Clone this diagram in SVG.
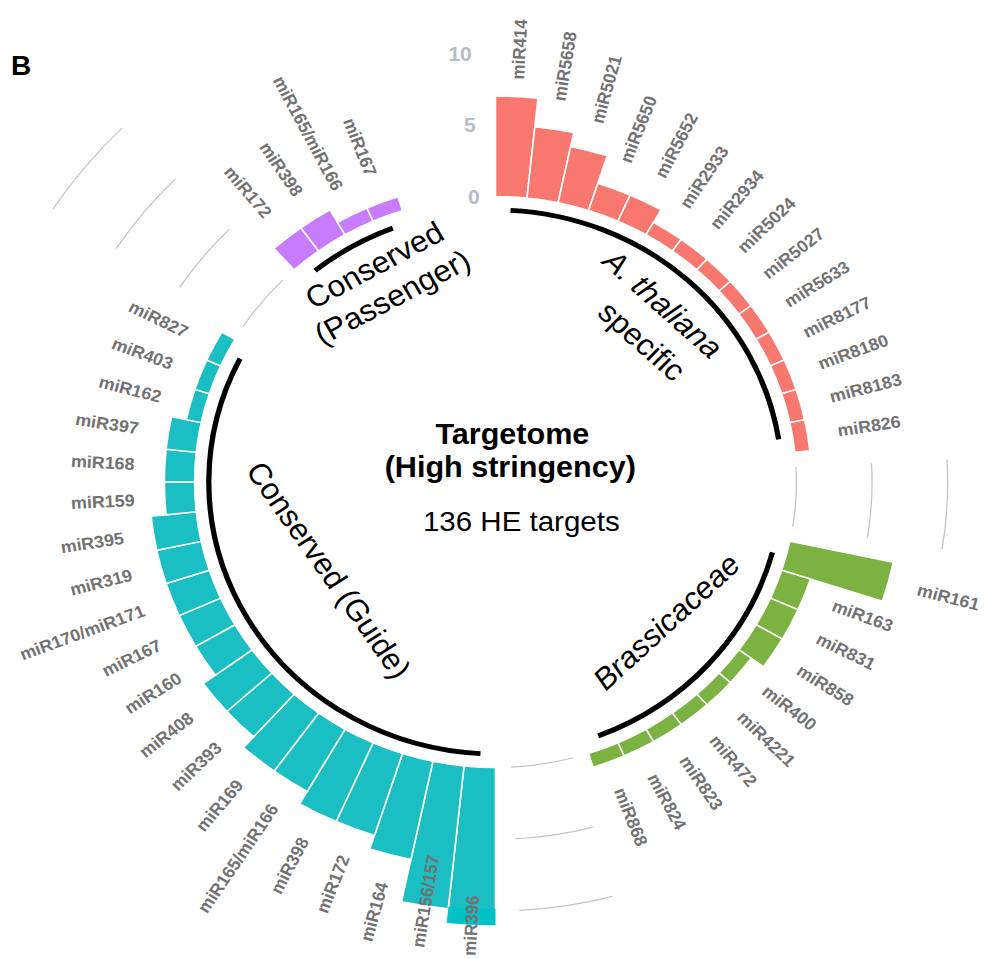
<svg xmlns="http://www.w3.org/2000/svg" xmlns:xlink="http://www.w3.org/1999/xlink" width="986" height="959" viewBox="0 0 986 959">
<style>
text{font-family:"Liberation Sans",Arial,sans-serif}
.lb{font-size:17px;font-weight:bold;fill:#727272}
.le{font-size:17px;font-weight:bold;fill:#727272;text-anchor:end}
.ax{font-size:20px;font-weight:bold;fill:#B8BDC6;text-anchor:end}
.bar{stroke:#fff;stroke-width:1.5}
.at{fill:#F8776E}
.br{fill:#7CB242}
.gu{fill:#1BBEC3}
.pa{fill:#C77CFF}
.grid{fill:none;stroke:#C4C4C4;stroke-width:1.2}
.base{fill:none;stroke:#000;stroke-width:5}
.ttl{font-size:30px;fill:#000;text-anchor:middle}
.ctr{font-size:29px;fill:#000;text-anchor:middle}
</style>
<defs>
<path id="b1" d="M0,-285.5V-299.85A299.85,299.85 0 0 1 31.343,-298.207L29.843,-283.935A285.5,285.5 0 0 0 0,-285.5Z"/>
<path id="b2" d="M0,-285.5V-314.2A314.2,314.2 0 0 1 32.843,-312.478L29.843,-283.935A285.5,285.5 0 0 0 0,-285.5Z"/>
<path id="b3" d="M0,-285.5V-328.55A328.55,328.55 0 0 1 34.343,-326.75L29.843,-283.935A285.5,285.5 0 0 0 0,-285.5Z"/>
<path id="b4" d="M0,-285.5V-342.9A342.9,342.9 0 0 1 35.843,-341.021L29.843,-283.935A285.5,285.5 0 0 0 0,-285.5Z"/>
<path id="b5" d="M0,-285.5V-357.25A357.25,357.25 0 0 1 37.343,-355.292L29.843,-283.935A285.5,285.5 0 0 0 0,-285.5Z"/>
<path id="b6" d="M0,-285.5V-371.6A371.6,371.6 0 0 1 38.843,-369.564L29.843,-283.935A285.5,285.5 0 0 0 0,-285.5Z"/>
<path id="b7" d="M0,-285.5V-385.95A385.95,385.95 0 0 1 40.344,-383.835L29.843,-283.935A285.5,285.5 0 0 0 0,-285.5Z"/>
<path id="b10" d="M0,-285.5V-429A429,429 0 0 1 44.843,-426.649L29.843,-283.935A285.5,285.5 0 0 0 0,-285.5Z"/>
<path id="b11" d="M0,-285.5V-443.35A443.35,443.35 0 0 1 46.343,-440.92L29.843,-283.935A285.5,285.5 0 0 0 0,-285.5Z"/>
<g id="gridarcs">
<path d="M0,-285.5A285.5,285.5 0 0 1 59.358,-279.262"/>
<path d="M0,-357.25A357.25,357.25 0 0 1 74.276,-349.444"/>
<path d="M0,-429A429,429 0 0 1 89.193,-419.626"/>
<path d="M0,-500.75A500.75,500.75 0 0 1 104.111,-489.809"/>
</g>
</defs>
<rect width="986" height="959" fill="#fff"/>
<text x="11" y="75" style="font-size:28px;font-weight:bold">B</text>
<g id="chart" transform="translate(495.5,482) scale(1.054,1)">
<g id="grid" class="grid">
<use href="#gridarcs" transform="rotate(87)"/>
<use href="#gridarcs" transform="rotate(165)"/>
<use href="#gridarcs" transform="rotate(303)"/>
</g>
<g id="axis-labels">
<text class="ax" x="-14.94" y="-285.11" dy=".35em">0</text>
<text class="ax" x="-18.7" y="-356.76" dy=".35em">5</text>
<text class="ax" x="-22.45" y="-428.41" dy=".35em">10</text>
</g>
<g id="group-athaliana">
<g class="bar at">
<use href="#b7"/>
<use href="#b5" transform="rotate(6)"/>
<use href="#b4" transform="rotate(12)"/>
<use href="#b2" transform="rotate(18)"/>
<use href="#b2" transform="rotate(24)"/>
<use href="#b1" transform="rotate(30)"/>
<use href="#b1" transform="rotate(36)"/>
<use href="#b1" transform="rotate(42)"/>
<use href="#b1" transform="rotate(48)"/>
<use href="#b1" transform="rotate(54)"/>
<use href="#b1" transform="rotate(60)"/>
<use href="#b1" transform="rotate(66)"/>
<use href="#b1" transform="rotate(72)"/>
<use href="#b1" transform="rotate(78)"/>
</g>
<path class="base" d="M14.236,-271.627A272,272 0 0 1 268.652,-42.549"/>
<text class="lb" transform="rotate(-87)" x="403" dy=".35em">miR414</text>
<text class="lb" transform="rotate(-81)" x="385.95" dy=".35em">miR5658</text>
<text class="lb" transform="rotate(-75)" x="371.6" dy=".35em">miR5021</text>
<text class="lb" transform="rotate(-69)" x="342.9" dy=".35em">miR5650</text>
<text class="lb" transform="rotate(-63)" x="342.9" dy=".35em">miR5652</text>
<text class="lb" transform="rotate(-57)" x="328.55" dy=".35em">miR2933</text>
<text class="lb" transform="rotate(-51)" x="328.55" dy=".35em">miR2934</text>
<text class="lb" transform="rotate(-45)" x="328.55" dy=".35em">miR5024</text>
<text class="lb" transform="rotate(-39)" x="328.55" dy=".35em">miR5027</text>
<text class="lb" transform="rotate(-33)" x="328.55" dy=".35em">miR5633</text>
<text class="lb" transform="rotate(-27)" x="328.55" dy=".35em">miR8177</text>
<text class="lb" transform="rotate(-21)" x="328.55" dy=".35em">miR8180</text>
<text class="lb" transform="rotate(-15)" x="328.55" dy=".35em">miR8183</text>
<text class="lb" transform="rotate(-9)" x="328.55" dy=".35em">miR826</text>
<text class="ttl" transform="translate(159,-178) rotate(43)" dy=".35em" font-style="italic">A. thaliana</text>
<text class="ttl" transform="translate(139,-141) rotate(43)" dy=".35em">specific</text>
</g>
<g id="group-brassicaceae">
<g class="bar br">
<use href="#b7" transform="rotate(102)"/>
<use href="#b2" transform="rotate(108)"/>
<use href="#b2" transform="rotate(114)"/>
<use href="#b2" transform="rotate(120)"/>
<use href="#b1" transform="rotate(126)"/>
<use href="#b1" transform="rotate(132)"/>
<use href="#b1" transform="rotate(138)"/>
<use href="#b1" transform="rotate(144)"/>
<use href="#b1" transform="rotate(150)"/>
<use href="#b1" transform="rotate(156)"/>
</g>
<path class="base" d="M262.733,70.399A272,272 0 0 1 97.477,253.934"/>
<text class="lb" transform="rotate(15)" x="414.7" dy=".35em">miR161</text>
<text class="lb" transform="rotate(21)" x="342.9" dy=".35em">miR163</text>
<text class="lb" transform="rotate(27)" x="342.9" dy=".35em">miR831</text>
<text class="lb" transform="rotate(33)" x="342.9" dy=".35em">miR858</text>
<text class="lb" transform="rotate(39)" x="328.55" dy=".35em">miR400</text>
<text class="lb" transform="rotate(45)" x="328.55" dy=".35em">miR4221</text>
<text class="lb" transform="rotate(51)" x="328.55" dy=".35em">miR472</text>
<text class="lb" transform="rotate(57)" x="328.55" dy=".35em">miR823</text>
<text class="lb" transform="rotate(63)" x="328.55" dy=".35em">miR824</text>
<text class="lb" transform="rotate(69)" x="328.55" dy=".35em">miR868</text>
<text class="ttl" transform="translate(162,139.6) rotate(-44)" dy=".35em" font-style="italic">Brassicaceae</text>
</g>
<g id="group-guide">
<g class="bar gu">
<use href="#b11" transform="rotate(180)"/>
<use href="#b10" transform="rotate(186)"/>
<use href="#b7" transform="rotate(192)"/>
<use href="#b6" transform="rotate(198)"/>
<use href="#b6" transform="rotate(204)"/>
<use href="#b5" transform="rotate(210)"/>
<use href="#b5" transform="rotate(216)"/>
<use href="#b4" transform="rotate(222)"/>
<use href="#b4" transform="rotate(228)"/>
<use href="#b3" transform="rotate(234)"/>
<use href="#b3" transform="rotate(240)"/>
<use href="#b3" transform="rotate(246)"/>
<use href="#b3" transform="rotate(252)"/>
<use href="#b3" transform="rotate(258)"/>
<use href="#b2" transform="rotate(264)"/>
<use href="#b2" transform="rotate(270)"/>
<use href="#b2" transform="rotate(276)"/>
<use href="#b1" transform="rotate(282)"/>
<use href="#b1" transform="rotate(288)"/>
<use href="#b1" transform="rotate(294)"/>
</g>
<path transform="rotate(180)" fill="#00C1C5" d="M0,-427V-443.35A443.35,443.35 0 0 1 46.343,-440.92L44.634,-424.653A427,427 0 0 0 0,-427Z"/>
<path class="base" d="M-14.236,271.627A272,272 0 0 1 -242.355,-123.485"/>
<text class="le" transform="rotate(-87)" x="-414" dy=".35em">miR396</text>
<text class="le" transform="rotate(-81)" x="-377.6" dy=".35em">miR156/157</text>
<text class="le" transform="rotate(-75)" x="-414.7" dy=".35em">miR164</text>
<text class="le" transform="rotate(-69)" x="-400.3" dy=".35em">miR172</text>
<text class="le" transform="rotate(-63)" x="-400.3" dy=".35em">miR398</text>
<text class="le" transform="rotate(-57)" x="-385.95" dy=".35em">miR165/miR166</text>
<text class="le" transform="rotate(-51)" x="-385.95" dy=".35em">miR169</text>
<text class="le" transform="rotate(-45)" x="-371.6" dy=".35em">miR393</text>
<text class="le" transform="rotate(-39)" x="-371.6" dy=".35em">miR408</text>
<text class="le" transform="rotate(-33)" x="-357.25" dy=".35em">miR160</text>
<text class="le" transform="rotate(-27)" x="-357.25" dy=".35em">miR167</text>
<text class="le" transform="rotate(-21)" x="-357.25" dy=".35em">miR170/miR171</text>
<text class="le" transform="rotate(-15)" x="-357.25" dy=".35em">miR319</text>
<text class="le" transform="rotate(-9)" x="-357.25" dy=".35em">miR395</text>
<text class="le" transform="rotate(-3)" x="-342.9" dy=".35em">miR159</text>
<text class="le" transform="rotate(3)" x="-342.9" dy=".35em">miR168</text>
<text class="le" transform="rotate(9)" x="-342.9" dy=".35em">miR397</text>
<text class="le" transform="rotate(15)" x="-328.55" dy=".35em">miR162</text>
<text class="le" transform="rotate(21)" x="-328.55" dy=".35em">miR403</text>
<text class="le" transform="rotate(27)" x="-328.55" dy=".35em">miR827</text>
<text class="ttl" transform="translate(-158,88) rotate(56)" dy=".35em">Conserved (Guide)</text>
</g>
<g id="group-passenger">
<g class="bar pa">
<use href="#b2" transform="rotate(318)"/>
<use href="#b2" transform="rotate(324)"/>
<use href="#b1" transform="rotate(330)"/>
<use href="#b1" transform="rotate(336)"/>
</g>
<path class="base" d="M-171.175,-211.385A272,272 0 0 1 -97.477,-253.934"/>
<text class="le" transform="rotate(51)" x="-342.9" dy=".35em">miR172</text>
<text class="le" transform="rotate(57)" x="-342.9" dy=".35em">miR398</text>
<text class="le" transform="rotate(63)" x="-328.55" dy=".35em">miR165/miR166</text>
<text class="le" transform="rotate(69)" x="-328.55" dy=".35em">miR167</text>
<text class="ttl" transform="translate(-115,-217) rotate(-29.5)" dy=".35em">Conserved</text>
<text class="ttl" transform="translate(-98,-185) rotate(-29)" dy=".35em">(Passenger)</text>
</g>
<g id="center-title">
<text class="ctr" x="16" y="-38" font-weight="bold">Targetome</text>
<text class="ctr" x="14" y="-5" font-weight="bold">(High stringency)</text>
<text class="ctr" x="24.5" y="49" style="font-size:28px">136 HE targets</text>
</g>
</g>
</svg>
